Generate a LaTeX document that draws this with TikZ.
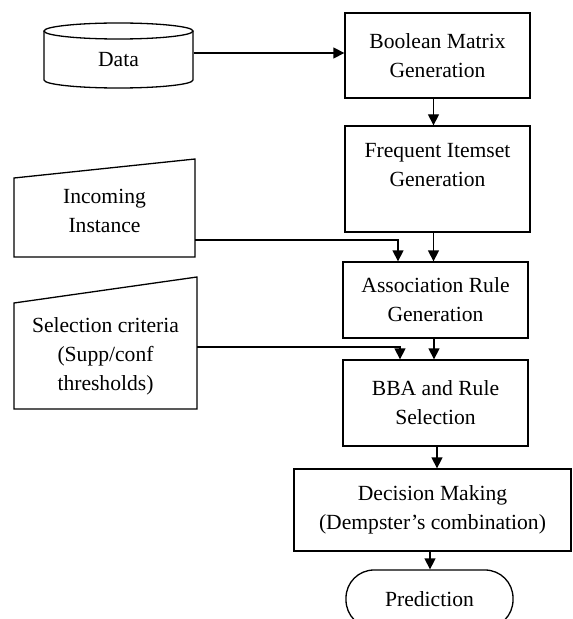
\documentclass[tikz,border=0pt]{standalone}
\usepackage{fontspec}
\setmainfont{Liberation Serif}
\usetikzlibrary{arrows.meta,calc}
\begin{document}
\begin{tikzpicture}[x=1bp,y=-1bp,
  line width=1.3bp,
  txt/.style={font=\fontsize{21.6bp}{29bp}\selectfont, align=center, inner sep=0pt},
  box/.style={txt, draw, rectangle},
  arr/.style={-{Triangle[length=11bp,width=11bp]}},
]
\clip (0,0) rectangle (573,619);
% process boxes
\node[box, minimum width=185bp, minimum height=85bp] (bool) at (437.5,55.5) {Boolean Matrix\\Generation};
\node[box, minimum width=185bp, minimum height=106bp] (freq) at (437.5,179) {Frequent Itemset\\Generation\\\mbox{}};
\node[box, minimum width=185bp, minimum height=76bp] (assoc) at (435.5,300) {Association Rule\\Generation};
\node[box, minimum width=185bp, minimum height=86bp] (bba) at (435.5,403) {BBA and Rule\\Selection};
\node[box, minimum width=277bp, minimum height=82bp] (dec) at (432.5,510) {Decision Making\\(Dempster’s combination)};
\node[box, rounded corners=28bp, minimum width=167bp, minimum height=58bp] (pred) at (429.5,599) {Prediction};
% data cylinder
\draw (44,31) -- (44,80) arc[start angle=180,end angle=360,x radius=74.5bp,y radius=8bp] -- (193,31);
\draw (118.5,31) ellipse [x radius=74.5bp, y radius=8bp];
\node[txt, minimum width=149bp, minimum height=40bp] (data) at (118.5,60) {Data};
\draw[arr] (data.east |- 0,53) -- (bool.west |- 0,53);
% incoming instance (manual input)
\draw (14,178) -- (195,159) -- (195,257) -- (14,257) -- cycle;
\node[txt] (inc) at (104.5,211) {Incoming\\Instance};
\coordinate (incout) at (195,240);
\draw[arr] (incout) -| ([xshift=-37.5bp]assoc.north);
% selection criteria (manual input)
\draw (14,303) -- (197,277) -- (197,409) -- (14,409) -- cycle;
\node[txt] (sel) at (105.5,356) {Selection criteria\\(Supp/conf\\thresholds)};
\coordinate (selout) at (197,347);
\draw[arr] (selout) -| ([xshift=-35.5bp]bba.north);
% vertical flow
\draw[arr] ([xshift=-4bp]bool.south) -- ([xshift=-4bp]bool.south |- freq.north);
\draw[arr] ([xshift=-4bp]freq.south) -- ([xshift=-4bp]freq.south |- assoc.north);
\draw[arr] ([xshift=-1.5bp]assoc.south) -- ([xshift=-1.5bp]assoc.south |- bba.north);
\draw[arr] ([xshift=1.5bp]bba.south) -- ([xshift=1.5bp]bba.south |- dec.north);
\draw[arr] ([xshift=-2.5bp]dec.south) -- ([xshift=-2.5bp]dec.south |- pred.north);
\end{tikzpicture}
\end{document}
